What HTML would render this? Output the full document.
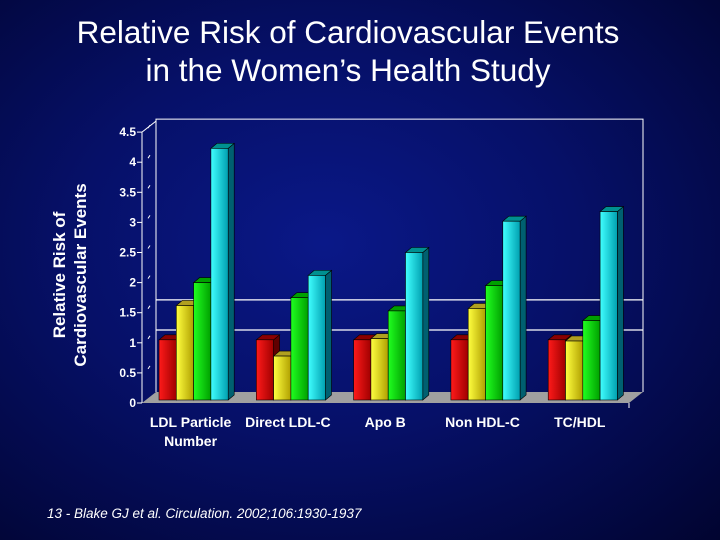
<!DOCTYPE html>
<html><head><meta charset="utf-8"><style>
html,body{margin:0;padding:0}
body{width:720px;height:540px;overflow:hidden;background:radial-gradient(ellipse at 45% 45%,#0a1888 0%,#061068 45%,#010430 100%);font-family:"Liberation Sans",sans-serif;position:relative}
.title{position:absolute;left:0;width:696px;top:13px;text-align:center;color:#fff;font-size:31.5px;line-height:38px}
.foot{position:absolute;left:47px;top:506px;color:#fff;font-size:13.5px;font-style:italic}
</style></head><body>
<div class="title">Relative Risk of Cardiovascular Events<br>in the Women’s Health Study</div>
<svg id="chart" width="720" height="540" style="position:absolute;left:0;top:0">
<defs>
<linearGradient id="gr" x1="0" x2="1"><stop offset="0" stop-color="#ff1a1a"/><stop offset="1" stop-color="#a00000"/></linearGradient>
<linearGradient id="gy" x1="0" x2="1"><stop offset="0" stop-color="#ffff40"/><stop offset="1" stop-color="#b0a000"/></linearGradient>
<linearGradient id="gg" x1="0" x2="1"><stop offset="0" stop-color="#20ff20"/><stop offset="1" stop-color="#00a000"/></linearGradient>
<linearGradient id="gc" x1="0" x2="1"><stop offset="0" stop-color="#40ffff"/><stop offset="1" stop-color="#00a0b0"/></linearGradient>
</defs>
<text transform="translate(65,275) rotate(-90)" text-anchor="middle" fill="#fff" font-weight="bold" font-size="17"><tspan x="0" y="0">Relative Risk of</tspan><tspan x="0" y="21">Cardiovascular Events</tspan></text>
</svg>
<div class="foot">13 - Blake GJ et al. Circulation. 2002;106:1930-1937</div>
<script>
const categories=["LDL Particle|Number","Direct LDL-C","Apo B","Non HDL-C","TC/HDL"];
const seriesRed=[1.0,1.0,1.0,1.0,1.0];
const seriesYellow=[1.57,0.73,1.02,1.52,0.98];
const seriesGreen=[1.95,1.7,1.48,1.9,1.32];
const seriesCyan=[4.18,2.07,2.45,2.97,3.13];
const yTicks=[0,0.5,1,1.5,2,2.5,3,3.5,4,4.5];
const refLines=[1.03,1.53];

const svg=document.getElementById('chart');
const NS='http://www.w3.org/2000/svg';
const y0=403, sc=60.2, dx=14, dy=-11;
const yF=v=>y0-v*sc;
function mk(tag,attrs){const e=document.createElementNS(NS,tag);for(const k in attrs)e.setAttribute(k,attrs[k]);svg.appendChild(e);return e;}
let w=mk('path',{d:`M${142+dx},${y0+dy} L${142+dx},${yF(4.5)+dy-2} L643,${yF(4.5)+dy-2} L643,${y0+dy}`,fill:'none',stroke:'#fff','stroke-width':1});


refLines.forEach(v=>{const l=mk('line',{x1:156,x2:643,y1:yF(v)+dy,y2:yF(v)+dy,stroke:'#fff','stroke-width':1.2});

});
let f=mk('polygon',{points:`142,${y0} 156,${y0+dy} 643,${y0+dy} 629,${y0}`,fill:'#a0a0a0'});


mk('line',{x1:629,y1:y0,x2:629,y2:y0+5,stroke:'#fff'});
let ax=mk('line',{x1:142,y1:y0,x2:142,y2:yF(4.5),stroke:'#fff'});


mk('line',{x1:142,y1:yF(4.5),x2:156,y2:yF(4.5)+dy,stroke:'#fff'});
yTicks.forEach(v=>{
 mk('line',{x1:137,x2:142,y1:yF(v),y2:yF(v),stroke:'#fff'});
 if(v>0) mk('line',{x1:148,x2:150,y1:yF(v)-4,y2:yF(v)-7,stroke:'#fff','stroke-width':1});
 const t=mk('text',{x:136,y:yF(v)+4,'text-anchor':'end',fill:'#fff','font-size':12,'font-weight':'bold'});
 t.textContent=String(v);
 
 
});
const series=[[seriesRed,'url(#gr)','#8a0000','#600000','red'],[seriesYellow,'url(#gy)','#b0a020','#807000','yellow'],[seriesGreen,'url(#gg)','#00a000','#006000','green'],[seriesCyan,'url(#gc)','#009090','#006070','cyan']];
const gx0=159, gstep=97.3, bw=17.3, bd=6, bh=5, base=400;
categories.forEach((c,i)=>{
 series.forEach((sr,s)=>{
  const v=sr[0][i], x=gx0+i*gstep+s*bw, top=base-v*sc;
  const g=document.createElementNS(NS,'g');svg.appendChild(g);
  
  
  const side=document.createElementNS(NS,'polygon');side.setAttribute('points',`${x+bw},${top} ${x+bw+bd},${top-bh} ${x+bw+bd},${base-bh} ${x+bw},${base}`);side.setAttribute('fill',sr[3]);side.setAttribute('stroke','#000');side.setAttribute('stroke-width','0.6');g.appendChild(side);
  const tp=document.createElementNS(NS,'polygon');tp.setAttribute('points',`${x},${top} ${x+bd},${top-bh} ${x+bw+bd},${top-bh} ${x+bw},${top}`);tp.setAttribute('fill',sr[2]);tp.setAttribute('stroke','#000');tp.setAttribute('stroke-width','0.6');g.appendChild(tp);
  const fr=document.createElementNS(NS,'rect');fr.setAttribute('x',x);fr.setAttribute('y',top);fr.setAttribute('width',bw);fr.setAttribute('height',base-top);fr.setAttribute('fill',sr[1]);fr.setAttribute('stroke','#000');fr.setAttribute('stroke-width','0.6');g.appendChild(fr);
 });
 const lines=c.split('|');
 const cx=gx0+i*gstep+bw*2-3;
 const t=mk('text',{x:cx,y:427,'text-anchor':'middle',fill:'#fff','font-size':14,'font-weight':'bold'});
 
 
 lines.forEach((ln,k)=>{const ts=document.createElementNS(NS,'tspan');ts.setAttribute('x',cx);ts.setAttribute('dy',k?19:0);ts.textContent=ln;t.appendChild(ts);});
});
</script>
</body></html>
